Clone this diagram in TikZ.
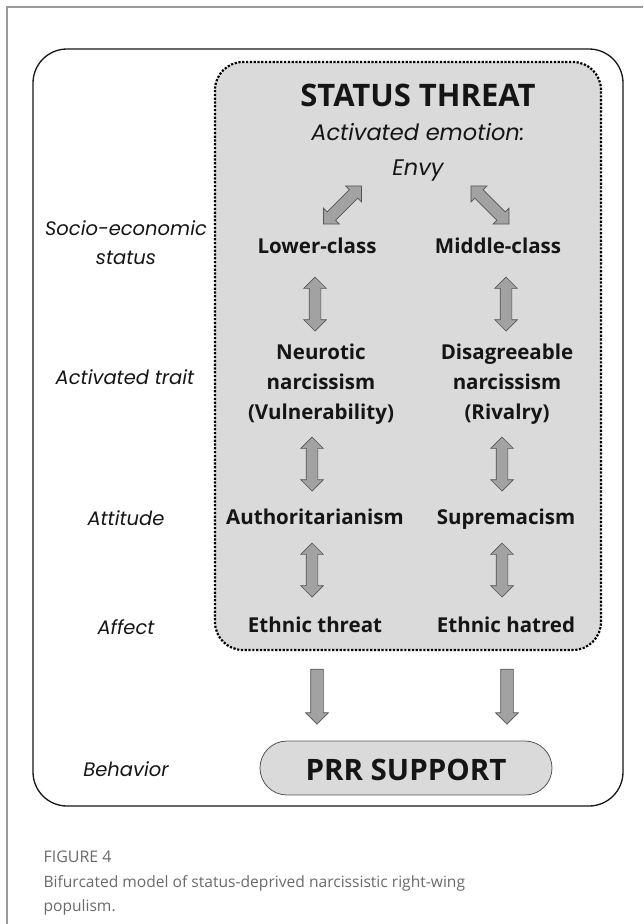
\documentclass[tikz,border=0pt]{standalone}
\usepackage{fontspec}
\setmainfont{Open Sans}
\newfontfamily\labelfont{Poppins}
\newfontfamily\capfont{Open Sans}
\usetikzlibrary{shapes.arrows}

\definecolor{boxgray}{HTML}{DADADA}
\definecolor{arrowfill}{HTML}{A2A2A2}
\definecolor{arrowedge}{HTML}{555555}
\definecolor{framegray}{HTML}{9A9A9A}
\definecolor{inkblack}{HTML}{151515}
\definecolor{capgray}{HTML}{6A6A6A}

\begin{document}
\begin{tikzpicture}[x=1pt,y=-1pt]

\tikzstyle{head} = [font=\fontsize{20.5}{30}\selectfont\bfseries, text=inkblack, anchor=base, align=center]
\tikzstyle{big} = [font=\fontsize{31}{30}\selectfont\bfseries, text=inkblack, anchor=base, align=center]
\tikzstyle{side} = [font=\labelfont\itshape\fontsize{19.5}{29}\selectfont, text=inkblack, anchor=base, align=center]
\tikzstyle{dbl} = [double arrow, draw=arrowedge, fill=arrowfill, line width=0.7pt, inner sep=5.5pt, double arrow head extend=5.5pt, minimum height=54pt]
\tikzstyle{sgl} = [single arrow, draw=arrowedge, fill=arrowfill, line width=0.7pt, inner sep=6pt, single arrow head extend=5pt, minimum height=55pt]

\useasboundingbox (0,0) rectangle (643,924);

% page frame and boxes
\draw[framegray, line width=1.5pt] (7,924) -- (7,7) -- (643,7);
\draw[inkblack, line width=1.3pt, rounded corners=34pt] (33,49) rectangle (623,806);
\draw[fill=boxgray, line width=2.2pt, dash pattern=on 2.2pt off 1.6pt, rounded corners=28pt] (215,62) rectangle (601,650);

% top of the box (base = last line)
\node [big] (threat) at (418,106) {STATUS THREAT};
\node [side, font=\labelfont\itshape\fontsize{22.5}{35}\selectfont] (emotion) at (418,175) {Activated emotion:\\Envy};

% left column
\node [head] (lower) at (317,253) {Lower-class};
\node [head] (neurotic) at (321,419) {Neurotic\\narcissism\\(Vulnerability)};
\node [head] (author) at (315,524) {Authoritarianism};
\node [head] (eththreat) at (315,632) {Ethnic threat};

% right column
\node [head] (middle) at (498,253) {Middle-class};
\node [head] (disagree) at (507,419) {Disagreeable\\narcissism\\(Rivalry)};
\node [head] (suprem) at (506,524) {Supremacism};
\node [head] (ethhatred) at (506,632) {Ethnic hatred};

% arrows
\node [dbl, rotate=45] (envyl) at (342.5,205) {};
\node [dbl, rotate=-45] (envyr) at (490,205) {};
\node [dbl, rotate=90] (l1) at (315,304) {};
\node [dbl, rotate=90] (l2) at (312,464) {};
\node [dbl, rotate=90] (l3) at (312,570) {};
\node [dbl, rotate=90] (r1) at (506,304) {};
\node [dbl, rotate=90] (r2) at (502,464) {};
\node [dbl, rotate=90] (r3) at (502,570) {};
\node [sgl, rotate=-90] (dl) at (317,693.5) {};
\node [sgl, rotate=-90] (dr) at (507,693.5) {};

% outcome
\node [draw=arrowedge, fill=boxgray, line width=0.8pt, rounded corners=27pt, minimum width=292pt, minimum height=54pt] (prrbox) at (406,768) {};
\node [big, font=\fontsize{29.5}{30}\selectfont\bfseries] (prr) at (406,780.5) {PRR SUPPORT};

% level labels
\node [side] (ses) at (126,264) {Socio-economic\\status};
\node [side] (trait) at (125,384) {Activated trait};
\node [side] (attitude) at (126,525) {Attitude};
\node [side] (affect) at (126,634) {Affect};
\node [side] (behavior) at (126,776) {Behavior};

% caption
\node [font=\capfont\fontsize{16}{16}\selectfont, text=capgray, anchor=base west] (fignum) at (40,862) {FIGURE 4};
\node [font=\capfont\fontsize{15.6}{24}\selectfont, text=capgray, anchor=base west, align=left] (caption) at (40,911) {Bifurcated model of status-deprived narcissistic right-wing\\populism.};

\end{tikzpicture}
\end{document}
